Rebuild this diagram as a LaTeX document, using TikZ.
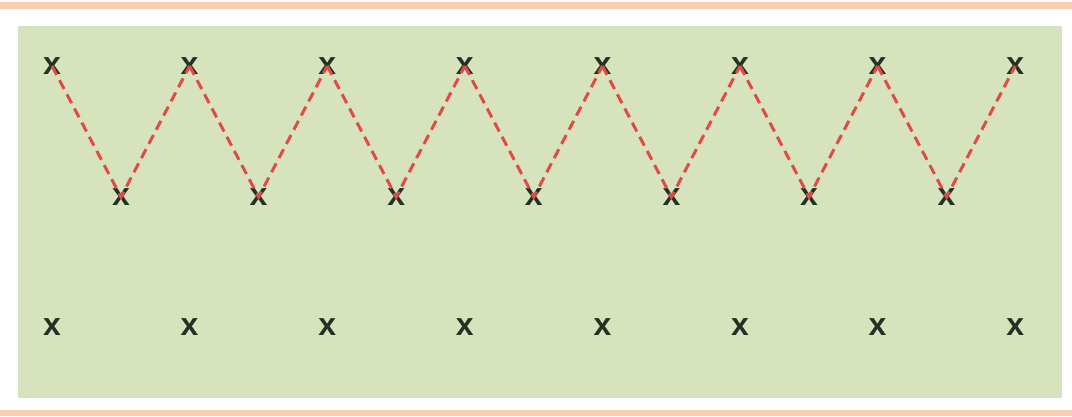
\documentclass[tikz,border=0pt]{standalone}
\usepackage{fontspec}
\setsansfont{Liberation Sans}
\definecolor{bgreen}{RGB}{214,227,188}
\definecolor{oline}{RGB}{250,205,175}
\definecolor{xcol}{RGB}{35,50,35}
\definecolor{zred}{RGB}{225,75,70}
\begin{document}
\begin{tikzpicture}[x=1pt,y=-1pt,
  mk/.style={inner sep=0pt, text=xcol, font=\fontsize{32}{32}\sffamily\bfseries},
  zz/.style={draw=zred, line width=3pt, dash pattern=on 10pt off 6pt}]
\useasboundingbox (0,0) rectangle (1072,416);
\fill[white] (0,0) rectangle (1072,416);
\fill[oline] (0,2) rectangle (1072,9);
\fill[oline] (0,410) rectangle (1072,416);
\fill[bgreen] (18,26) rectangle (1062,398);
\foreach \i [evaluate=\i as \j using int(\i+1)] in {1,...,7}{
  \coordinate (ct\i) at ({52+(\i-1)*137.6},66);
  \coordinate (cm\i) at ({121+(\i-1)*137.6},197);
}
\coordinate (ct8) at ({52+7*137.6},66);
\foreach \i in {1,...,8}{
  \node[mk] (t\i) at (ct\i) {x};
  \node[mk] (b\i) at ([yshift=-261pt]ct\i) {x};
}
\foreach \i in {1,...,7}{
  \node[mk] (m\i) at (cm\i) {x};
}
\foreach \i [evaluate=\i as \j using int(\i+1)] in {1,...,7}{
  \draw[zz] (t\i.center) -- (m\i.center) -- (t\j.center);
}
\end{tikzpicture}
\end{document}
